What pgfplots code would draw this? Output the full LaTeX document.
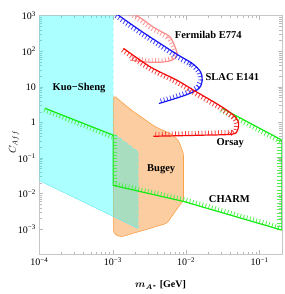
\documentclass[border=0pt]{standalone}
\usepackage{pgfplots}
\pgfplotsset{compat=1.18}
\usepackage{fontspec}
\setmainfont{Liberation Serif}
\definecolor{bugeyfill}{RGB}{252,205,160}
\definecolor{bugeyedge}{RGB}{250,160,70}
\definecolor{charmgreen}{RGB}{20,235,20}
\definecolor{e141blue}{RGB}{20,20,245}
\definecolor{orsayred}{RGB}{245,10,10}
\definecolor{e774pink}{RGB}{250,140,140}
\definecolor{kscyan}{RGB}{0,255,255}
\definecolor{ksedge}{RGB}{110,235,240}
\tikzset{
  hl/.style={line width=4.2pt, dash pattern=on 0.8pt off 2.5pt, line cap=butt, line join=bevel},
  mainline/.style={line width=1.2pt},
}
\begin{document}
\begin{tikzpicture}
\path[use as bounding box] (-39.4pt,-40pt) rectangle (244.6pt,254pt);
\begin{axis}[
  at={(0,0)}, anchor=south west,
  width=242.3pt, height=238.3pt, scale only axis,
  xmode=log, ymode=log,
  xmin=1e-4, xmax=0.2, ymin=2e-4, ymax=1000,
  xtick={1e-4,1e-3,1e-2,1e-1},
  xticklabels={10\textsuperscript{−4},10\textsuperscript{−3},10\textsuperscript{−2},10\textsuperscript{−1}},
  ytick={1e-3,1e-2,1e-1,1,10,100,1000},
  yticklabels={10\textsuperscript{−3},10\textsuperscript{−2},10\textsuperscript{−1},1,10,10\textsuperscript{2},10\textsuperscript{3}},
  tick label style={font=\fontsize{10}{12}\selectfont},
  axis line style={gray!45},
  every tick/.style={gray!55},
  tick align=inside,
  major tick length=4pt, minor tick length=2.5pt,
  xlabel={\bfseries{\boldmath$m_{A^*}$} [GeV]},
  ylabel={$C_{Aff}$},
  xlabel style={at={(axis description cs:0.5,-0.13)},anchor=center,font=\fontsize{10}{12}\selectfont},
  ylabel style={at={(axis description cs:-0.105,0.47)},anchor=center,font=\fontsize{10}{12}\selectfont},
]
% Bugey
\addplot[fill=bugeyfill, draw=bugeyedge, line width=0.6pt, rounded corners=3pt] coordinates {
 (1.02e-3,5.8) (1.8e-3,2.2) (3.8e-3,0.75) (6.1e-3,0.486) (7.8e-3,0.32) (9.2e-3,0.134)
 (9.2e-3,6.4e-3) (7.8e-3,4.17e-3) (5.46e-3,1.45e-3) (1.26e-3,5.96e-4) (1.02e-3,7.6e-4)
} -- cycle;
% Kuo-Sheng
\addplot[fill=kscyan, fill opacity=0.33, draw=none] coordinates {
 (1e-4,1000) (1.01e-3,1000) (1.01e-3,0.5) (2.21e-3,0.15) (2.21e-3,1.05e-3) (1e-4,0.023)
} -- cycle;
\addplot[ksedge, dashed, line width=0.6pt] coordinates {(1.01e-3,1000) (1.01e-3,0.5) (2.21e-3,0.15) (2.21e-3,1.05e-3)};
\addplot[ksedge, line width=0.5pt] coordinates {(2.21e-3,1.05e-3) (1e-4,0.023)};
% CHARM
\addplot[hl, charmgreen!75, transform canvas={xshift=-0.83pt,yshift=-2.09pt}] coordinates {(1.19e-4,2.5) (1.01e-3,0.44)};
\addplot[hl, charmgreen!75, transform canvas={xshift=-0.95pt,yshift=-2.04pt}] coordinates {(0.0307,2.5) (0.2,0.32)};
\addplot[hl, charmgreen!75, transform canvas={xshift=-2.25pt}] coordinates {(0.2,0.32) (0.2,9.4e-4)};
\addplot[hl, charmgreen!75, transform canvas={xshift=0.58pt,yshift=2.17pt}] coordinates {(0.2,9.4e-4) (9.2e-3,6.0e-3) (1.01e-3,0.017)};
\addplot[hl, charmgreen!75, transform canvas={xshift=2.25pt}] coordinates {(1.01e-3,0.017) (1.01e-3,0.44)};
\addplot[mainline, charmgreen] coordinates {(1.19e-4,2.5) (1.01e-3,0.44)};
\addplot[mainline, charmgreen] coordinates {
 (0.0307,2.5) (0.2,0.32) (0.2,9.4e-4) (9.2e-3,6.0e-3) (1.01e-3,0.017) (1.01e-3,0.44)};
% Fermilab E774
\addplot[hl, e774pink!90, smooth, transform canvas={xshift=-1.2pt,yshift=-1.9pt}] coordinates {
 (1.78e-3,1250) (2.51e-3,807) (3.55e-3,481) (4.71e-3,347) (6.05e-3,251)};
\addplot[hl, e774pink!90, smooth, transform canvas={xshift=-2.25pt}] coordinates {
 (6.05e-3,251) (7.08e-3,131) (7.54e-3,78) (6.44e-3,56.5)};
\addplot[hl, e774pink!90, smooth, transform canvas={yshift=2.25pt}] coordinates {
 (6.44e-3,56.5) (4.71e-3,49.6) (2.94e-3,49.6) (1.72e-3,56.5)};
\addplot[mainline, e774pink, smooth, tension=0.5] coordinates {
 (1.78e-3,1250) (2.51e-3,807) (3.55e-3,481) (4.71e-3,347) (6.05e-3,251) (7.08e-3,131)
 (7.54e-3,78) (6.44e-3,56.5) (4.71e-3,49.6) (2.94e-3,49.6) (1.72e-3,56.5)};
% SLAC E141
\addplot[hl, e141blue!80, smooth, transform canvas={xshift=-1.24pt,yshift=-1.87pt}] coordinates {
 (1.14e-3,1100) (2.51e-3,354) (7.14e-3,87.3) (0.01208,45.6)};
\addplot[hl, e141blue!80, smooth, transform canvas={xshift=-2.25pt}] coordinates {
 (0.01208,45.6) (0.01567,26.5) (0.01652,15.5) (0.0149,9.0)};
\addplot[hl, e141blue!80, smooth, transform canvas={xshift=-0.67pt,yshift=2.14pt}] coordinates {
 (0.0149,9.0) (9.77e-3,5.84) (4.25e-3,3.40)};
\addplot[mainline, e141blue, smooth, tension=0.5] coordinates {
 (1.14e-3,1100) (2.51e-3,354) (7.14e-3,87.3) (0.01208,45.6) (0.01567,26.5) (0.01652,15.5)
 (0.0149,9.0) (9.77e-3,5.84) (4.25e-3,3.40)};
% Orsay
\addplot[hl, orsayred!80, smooth, transform canvas={xshift=-1.15pt,yshift=-1.94pt}] coordinates {
 (1.40e-3,120.7) (3.23e-3,36.6) (7.46e-3,15.4) (0.01259,8.07) (0.0307,2.73) (0.0467,1.43)};
\addplot[hl, orsayred!80, smooth, transform canvas={xshift=-2.25pt}] coordinates {
 (0.0467,1.43) (0.0518,0.93) (0.0501,0.603) (0.0421,0.466)};
\addplot[hl, orsayred!80, smooth, transform canvas={yshift=2.25pt}] coordinates {
 (0.0421,0.466) (0.0155,0.436) (3.58e-3,0.408)};
\addplot[mainline, orsayred, smooth, tension=0.5] coordinates {
 (1.40e-3,120.7) (3.23e-3,36.6) (7.46e-3,15.4) (0.01259,8.07) (0.0307,2.73) (0.0467,1.43)
 (0.0518,0.93) (0.0501,0.603) (0.0421,0.466) (0.0155,0.436) (3.58e-3,0.408)};
% labels
\begin{scope}[every node/.style={font=\fontsize{10.5}{12}\selectfont\bfseries}]
\node at (axis cs:3.47e-4,9.2) {Kuo−Sheng};
\node at (axis cs:0.02,286) {Fermilab E774};
\node at (axis cs:0.0425,18.8) {SLAC E141};
\node at (axis cs:0.0398,0.26) {Orsay};
\node at (axis cs:4.56e-3,0.048) {Bugey};
\node at (axis cs:0.0387,6.9e-3) {CHARM};
\end{scope}
\end{axis}
\end{tikzpicture}
\end{document}
